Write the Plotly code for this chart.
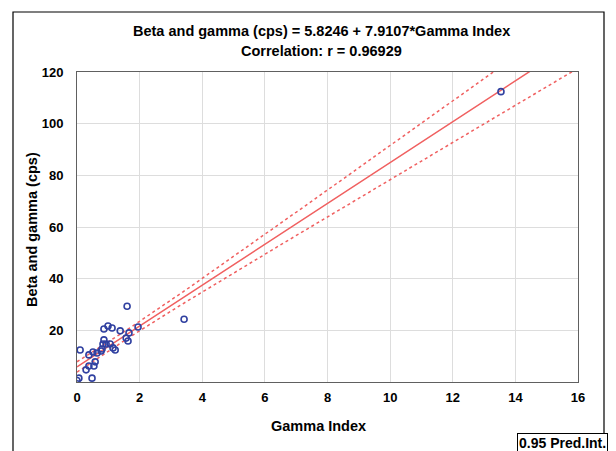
import numpy as np
import plotly.graph_objects as go

# Data
gamma_index = [0.00, 0.06, 0.10, 0.29, 0.38, 0.48, 0.54, 0.58, 0.38, 0.51,
               0.64, 0.77, 0.80, 0.83, 0.86, 0.86, 0.99, 1.12, 0.93, 1.06,
               1.15, 1.22, 1.38, 1.60, 1.57, 1.63, 1.66, 1.95, 3.42, 13.54]
beta_gamma = [0.6, 1.5, 12.4, 4.7, 6.2, 1.5, 6.2, 7.8, 10.5, 11.6,
              11.2, 12.0, 12.8, 14.7, 16.3, 20.5, 21.7, 20.9, 14.7, 14.7,
              13.2, 12.4, 19.8, 29.3, 17.0, 15.9, 19.0, 21.3, 24.3, 112.4]
intercept = 5.8246
slope = 7.9107
x_ticks = [0, 2, 4, 6, 8, 10, 12, 14, 16]
y_ticks = [20, 40, 60, 80, 100, 120]

x = np.array(gamma_index)
y = np.array(beta_gamma)
n = len(x)
xbar = x.mean()
sxx = ((x - xbar) ** 2).sum()
resid = y - (intercept + slope * x)
s = np.sqrt((resid ** 2).sum() / (n - 2))
t = 2.048

xl = np.linspace(0, 16, 200)
yl = intercept + slope * xl
hw = t * s * np.sqrt(1.0 / n + (xl - xbar) ** 2 / sxx)

red = "#f06060"
fig = go.Figure()
fig.add_trace(go.Scatter(x=xl, y=yl + hw, mode="lines",
                         line=dict(color=red, width=1.5, dash="dot"), hoverinfo="skip"))
fig.add_trace(go.Scatter(x=xl, y=yl - hw, mode="lines",
                         line=dict(color=red, width=1.5, dash="dot"), hoverinfo="skip"))
fig.add_trace(go.Scatter(x=xl, y=yl, mode="lines",
                         line=dict(color=red, width=1.5), hoverinfo="skip"))
fig.add_trace(go.Scatter(x=gamma_index, y=beta_gamma, mode="markers",
                         marker=dict(symbol="circle-open", size=6, color="#3040a0",
                                     line=dict(width=1.6, color="#3040a0"))))

font = "Liberation Sans, Arial, sans-serif"

# screen pixel -> paper coordinates (plot area spans x 77..578, y 72..382 on screen)
def px(X):
    return (X - 77) / 501.0


def py(Y):
    return (382 - Y) / 310.0


fig.update_layout(
    width=608, height=443,
    margin=dict(l=69, r=38, t=64, b=69),
    paper_bgcolor="white", plot_bgcolor="white",
    showlegend=False,
    font=dict(family=font, size=13, color="black"),
    xaxis=dict(range=[0, 16], tickvals=x_ticks, showgrid=True, gridcolor="#dddddd",
               showline=True, linecolor="#606060", mirror=True, ticks="",
               zeroline=False, ticklabelstandoff=3,
               tickfont=dict(family=font, size=13, color="black", weight="bold")),
    yaxis=dict(range=[0, 120], tickvals=y_ticks, showgrid=True, gridcolor="#dddddd",
               showline=True, linecolor="#606060", mirror=True, ticks="",
               zeroline=False, ticklabelstandoff=10,
               tickfont=dict(family=font, size=13, color="black", weight="bold")),
)

fig.add_annotation(xref="paper", yref="paper", x=px(321), y=py(31),
                   text="<b>Beta and gamma (cps) = 5.8246 + 7.9107*Gamma Index</b>",
                   showarrow=False, font=dict(family=font, size=14.5),
                   xanchor="center", yanchor="middle")
fig.add_annotation(xref="paper", yref="paper", x=px(321), y=py(51),
                   text="<b>Correlation: r = 0.96929</b>",
                   showarrow=False, font=dict(family=font, size=14.5),
                   xanchor="center", yanchor="middle")
fig.add_annotation(xref="paper", yref="paper", x=px(318), y=py(426),
                   text="<b>Gamma Index</b>", showarrow=False,
                   font=dict(family=font, size=14.5), xanchor="center", yanchor="middle")
fig.add_annotation(xref="paper", yref="paper", x=px(32), y=py(230),
                   text="<b>Beta and gamma (cps)</b>", showarrow=False, textangle=-90,
                   font=dict(family=font, size=14.5), xanchor="center", yanchor="middle")

# outer frame
fig.add_shape(type="rect", xref="paper", yref="paper",
              x0=px(13), x1=px(604), y0=py(470), y1=py(12),
              line=dict(color="black", width=1.2), layer="below")
# legend box
fig.add_annotation(xref="paper", yref="paper", x=px(517), y=py(433),
                   xanchor="left", yanchor="top", showarrow=False,
                   text="<b>0.95 Pred.Int.</b>", font=dict(family=font, size=14),
                   bordercolor="black", borderwidth=1, borderpad=1, bgcolor="white")

fig.write_html("out.html")
